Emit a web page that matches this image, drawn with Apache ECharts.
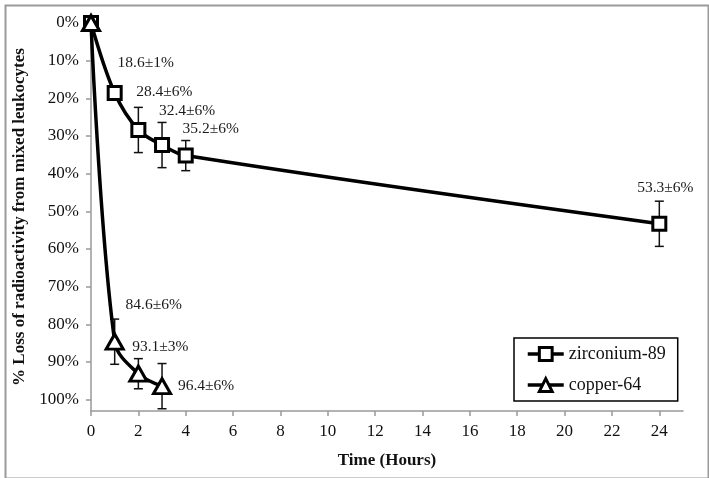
<!DOCTYPE html>
<html><head><meta charset="utf-8">
<script src="https://cdn.jsdelivr.net/npm/echarts@6/dist/echarts.min.js"></script>
<style>html,body{margin:0;padding:0;background:#fff}#c{width:709px;height:478px}</style>
</head><body><div id="c"></div>
<script>
// ---- data ----
const zrHours = [0, 1, 2, 3, 4, 24];
const zrLoss = [0, 18.6, 28.4, 32.4, 35.2, 53.3];
const zrErr = [0, 1, 6, 6, 4, 6];
const zrLabels = ['', '18.6±1%', '28.4±6%', '32.4±6%', '35.2±6%', '53.3±6%'];

const cuHours = [0, 1, 2, 3];
const cuLoss = [0, 84.6, 93.1, 96.4];
const cuErr = [0, 6, 4, 6];
const cuLabels = ['', '84.6±6%', '93.1±3%', '96.4±6%'];

const xTicks = [0, 2, 4, 6, 8, 10, 12, 14, 16, 18, 20, 22, 24];
const yTicks = [0, 10, 20, 30, 40, 50, 60, 70, 80, 90, 100];

// ---- style (label placement offsets, px) ----
const zrLabelOffsets = [[0,0],[31,-30],[26,-38],[25,-34],[25,-27],[6,-36]];
const cuLabelOffsets = [[0,0],[39,-37],[22,-27],[44,0]];

const FONT = '"Liberation Serif", "Times New Roman", serif';

function lineData(xs, ys, labels, offs) {
  return xs.map((x, i) => ({
    value: [x, ys[i]],
    label: labels[i] ? {
      show: true, formatter: labels[i], position: 'inside',
      offset: offs[i], align: 'center', verticalAlign: 'middle',
      color: '#1a1a1a', fontFamily: FONT, fontSize: 15.5
    } : { show: false }
  }));
}
function errData(xs, ys, es) {
  return xs.map((x, i) => [x, ys[i], es[i]]).filter(d => d[2] > 0);
}
function errRender(params, api) {
  const x = api.value(0), y = api.value(1), e = api.value(2);
  const p1 = api.coord([x, y - e]);
  const p2 = api.coord([x, y + e]);
  const w = 4.5;
  const st = { stroke: '#111', lineWidth: 1.5 };
  return { type: 'group', children: [
    { type: 'line', shape: { x1: p1[0], y1: p1[1], x2: p2[0], y2: p2[1] }, style: st },
    { type: 'line', shape: { x1: p1[0] - w, y1: p1[1], x2: p1[0] + w, y2: p1[1] }, style: st },
    { type: 'line', shape: { x1: p2[0] - w, y1: p2[1], x2: p2[0] + w, y2: p2[1] }, style: st }
  ]};
}

const chart = echarts.init(document.getElementById('c'), null, { renderer: 'canvas' });
chart.setOption({
  animation: false,
  backgroundColor: '#fff',
  textStyle: { fontFamily: FONT },
  graphic: [{
    type: 'rect', left: 3, top: 3, z: -10,
    shape: { x: 0, y: 0, width: 703, height: 473 },
    style: { fill: 'none', stroke: '#9a9a9a', lineWidth: 2 }
  }],
  grid: { left: 91, right: 26, top: 23, bottom: 67 },
  legend: {
    orient: 'vertical', left: 514, top: 338,
    padding: [7, 12, 7, 12], itemGap: 13, itemWidth: 36, itemHeight: 16,
    borderColor: '#000', borderWidth: 1.5, backgroundColor: '#fff',
    lineStyle: { width: 3.5, color: '#000' },
    itemStyle: { borderWidth: 3, borderColor: '#000', color: '#fff' },
    textStyle: { fontFamily: FONT, fontSize: 18, color: '#111' },
    data: ['zirconium-89', 'copper-64']
  },
  xAxis: {
    type: 'value', min: 0, max: 25, position: 'bottom',
    name: 'Time (Hours)', nameLocation: 'middle', nameGap: 41,
    nameTextStyle: { fontFamily: FONT, fontSize: 17, fontWeight: 'bold', color: '#111' },
    axisLine: { show: true, onZero: false, lineStyle: { color: '#999', width: 1.5 } },
    axisTick: { show: true, length: 5, customValues: xTicks, lineStyle: { color: '#999', width: 1.5 } },
    axisLabel: { customValues: xTicks, fontFamily: FONT, fontSize: 17, color: '#111', margin: 12 },
    splitLine: { show: false }
  },
  yAxis: {
    type: 'value', min: 0, max: 103, inverse: true,
    name: '% Loss of radioactivity from mixed leukocytes', nameLocation: 'middle', nameGap: 57,
    nameTextStyle: { fontFamily: FONT, fontSize: 17, fontWeight: 'bold', color: '#111' },
    axisLine: { show: true, onZero: false, lineStyle: { color: '#999', width: 1.5 } },
    axisTick: { show: true, length: 5, customValues: yTicks, lineStyle: { color: '#999', width: 1.5 } },
    axisLabel: { customValues: yTicks, formatter: v => v + '%', fontFamily: FONT, fontSize: 17, color: '#111', margin: 12 },
    splitLine: { show: false }
  },
  series: [
    { type: 'custom', name: 'zrErr', renderItem: errRender, data: errData(zrHours, zrLoss, zrErr), z: 1, silent: true },
    { type: 'custom', name: 'cuErr', renderItem: errRender, data: errData(cuHours, cuLoss, cuErr), z: 1, silent: true },
    {
      type: 'line', name: 'zirconium-89', smooth: 0.35, z: 3,
      symbol: 'rect', symbolSize: 13, showAllSymbol: true,
      lineStyle: { color: '#000', width: 3.5 },
      itemStyle: { color: '#fff', borderColor: '#000', borderWidth: 3 },
      data: lineData(zrHours, zrLoss, zrLabels, zrLabelOffsets)
    },
    {
      type: 'line', name: 'copper-64', smooth: 0.35, z: 4,
      symbol: 'triangle', symbolSize: [17, 15], showAllSymbol: true,
      lineStyle: { color: '#000', width: 3.5 },
      itemStyle: { color: '#fff', borderColor: '#000', borderWidth: 3 },
      data: lineData(cuHours, cuLoss, cuLabels, cuLabelOffsets)
    }
  ]
});
</script>
</body></html>
